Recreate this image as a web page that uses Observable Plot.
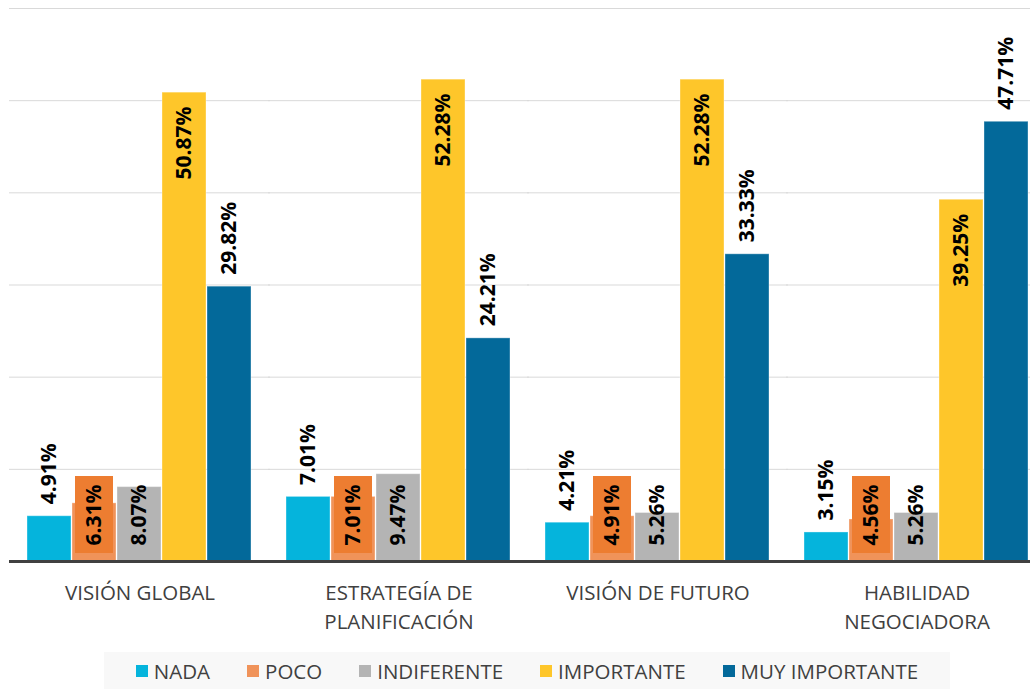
<!DOCTYPE html>
<html>
<head>
<meta charset="utf-8">
<script src="https://cdn.jsdelivr.net/npm/d3@7"></script>
<script src="https://cdn.jsdelivr.net/npm/@observablehq/plot@0.6"></script>
<style>
  html, body { margin: 0; padding: 0; background: #fff; overflow: hidden; }
  #chart svg { display: block; overflow: hidden; }
  .legend { margin-left: 104px; width: 846px; height: 37px; background: #f8f8f8;
    display: flex; align-items: center; justify-content: center; gap: 37px;
    font-family: "Open Sans", sans-serif; font-size: 20.5px; color: #404040; }
  .legend .item { display: flex; align-items: center; gap: 6px; }
  .legend .sw { width: 12px; height: 12px; display: inline-block; }
</style>
</head>
<body>
<div id="chart"></div>
<script>
const categories = ["VISIÓN GLOBAL", "ESTRATEGÍA DE\nPLANIFICACIÓN", "VISIÓN DE FUTURO", "HABILIDAD\nNEGOCIADORA"];
const series = ["NADA", "POCO", "INDIFERENTE", "IMPORTANTE", "MUY IMPORTANTE"];
const nada = [4.91, 7.01, 4.21, 3.15];
const poco = [6.31, 7.01, 4.91, 4.56];
const indiferente = [8.07, 9.47, 5.26, 5.26];
const importante = [50.87, 52.28, 52.28, 39.25];
const muyImportante = [29.82, 24.21, 33.33, 47.71];
const yTicks = [0, 10, 20, 30, 40, 50, 60];
const colors = ["#05b4dc", "#f0935a", "#b4b4b4", "#fec62a", "#03699a"];

const seriesValues = [nada, poco, indiferente, importante, muyImportante];
const data = categories.flatMap((c, i) => series.map((s, j) => ({category: c, series: s, value: seriesValues[j][i]})));
const fmt = d => d.value.toFixed(2) + "%";
const labelStyle = {fx: "category", x: "series", text: fmt, rotate: -90, lineAnchor: "middle",
  fontFamily: "Open Sans", fontWeight: 700, fontSize: 21, fill: "#000"};

const chart = Plot.plot({
  width: 1030, height: 652,
  marginTop: 8, marginBottom: 91, marginLeft: 0, marginRight: 0,
  fx: {domain: categories, range: [9, 1047], paddingInner: 0.115, paddingOuter: 0.057, label: null},
  x: {domain: series, padding: 0.02, axis: null},
  y: {domain: [0, 60], axis: null},
  color: {domain: series, range: colors},
  marks: [
    Plot.ruleY(yTicks, {stroke: "#d9d9d9", strokeWidth: 1, insetLeft: -16, insetRight: -16}),
    Plot.barY(data, {fx: "category", x: "series", y: "value", fill: "series", stroke: "#fff", strokeOpacity: 0.35, strokeWidth: 1}),
    Plot.ruleY([0], {stroke: "#404040", strokeWidth: 3, insetLeft: -16, insetRight: -16}),
    Plot.barY(data.filter(d => d.series === "POCO"), {fx: "category", x: "series", y1: d => 0, y2: d => 0,
      insetTop: -85, insetBottom: 8, insetLeft: 3, insetRight: 3, fill: "#ed7d31"}),
    Plot.text(data.filter(d => d.series === "NADA" || d.series === "MUY IMPORTANTE"),
      {...labelStyle, y: "value", textAnchor: "start", dy: -12}),
    Plot.text(data.filter(d => d.series === "POCO" || d.series === "INDIFERENTE"),
      {...labelStyle, y: d => 0, textAnchor: "start", dy: -16}),
    Plot.text(data.filter(d => d.series === "IMPORTANTE"),
      {...labelStyle, y: "value", textAnchor: "end", dy: 14}),
    Plot.axisFx({anchor: "bottom", tickSize: 0, tickPadding: 18, fontSize: 20.5, lineHeight: 1.42,
      fontFamily: "Open Sans", fill: "#404040", label: null})
  ]
});
document.getElementById("chart").appendChild(chart);

const legend = document.createElement("div");
legend.className = "legend";
series.forEach((s, i) => {
  const item = document.createElement("span");
  item.className = "item";
  const sw = document.createElement("span");
  sw.className = "sw";
  sw.style.background = colors[i];
  const t = document.createElement("span");
  t.textContent = s;
  item.appendChild(sw); item.appendChild(t);
  legend.appendChild(item);
});
document.getElementById("chart").appendChild(legend);
</script>
</body>
</html>
